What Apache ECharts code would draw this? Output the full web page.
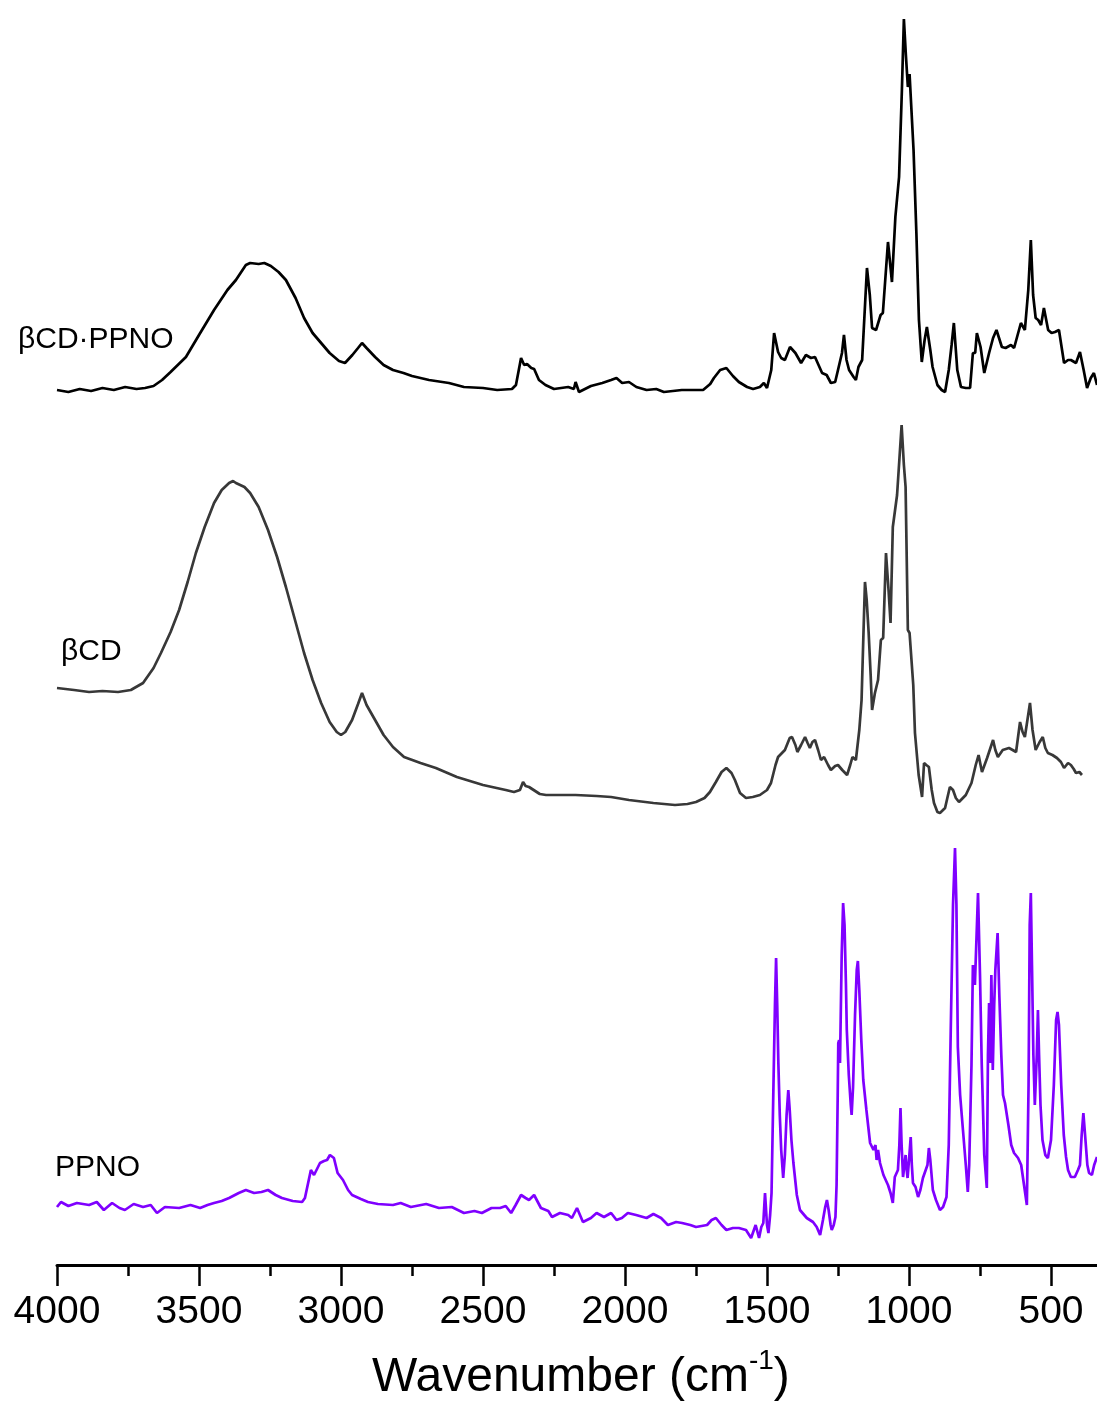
<!DOCTYPE html>
<html>
<head>
<meta charset="utf-8">
<script src="https://cdn.jsdelivr.net/npm/echarts@6/dist/echarts.min.js"></script>
<style>
  html, body { margin: 0; padding: 0; background: #fff; }
  #chart { width: 1097px; height: 1410px; }
</style>
</head>
<body>
<div id="chart"></div>
<script>
// FTIR spectra, stacked with vertical offsets (arbitrary units)
var seriesNames = ['βCD·PPNO', 'βCD', 'PPNO'];
var seriesColors = ['#000000', '#383838', '#7f00ff'];
var offsets = [875, 575, 60];
var xTicks = [4000, 3500, 3000, 2500, 2000, 1500, 1000, 500];

// [wavenumber, intensity]
var complexSpectrum = [
  [4000, 0], [3960, -2], [3920, 1], [3880, -1], [3840, 2], [3800, 0], [3760, 3], [3720, 1],
  [3690, 2], [3660, 4], [3630, 10], [3600, 18], [3546, 33], [3500, 55], [3447, 80], [3400, 100],
  [3370, 110], [3335, 125], [3320, 127], [3290, 126], [3270, 127], [3247, 124], [3220, 118],
  [3194, 110], [3160, 92], [3130, 72], [3100, 57], [3070, 47], [3040, 37], [3007, 29], [2986, 27],
  [2960, 35], [2940, 42], [2926, 47], [2910, 42], [2880, 33], [2850, 25], [2817, 20], [2780, 17],
  [2750, 14], [2690, 10], [2620, 7], [2567, 3], [2500, 2], [2450, 0], [2398, 1], [2384, 5],
  [2366, 32], [2355, 25], [2345, 26], [2330, 22], [2320, 21], [2303, 10], [2280, 5], [2250, 1],
  [2200, 3], [2180, 1], [2174, 8], [2162, -2], [2120, 4], [2080, 7], [2049, 10], [2030, 12],
  [2010, 7], [1986, 8], [1960, 3], [1924, 0], [1890, 1], [1863, -2], [1800, 0], [1725, 0],
  [1700, 6], [1687, 12], [1665, 20], [1643, 22], [1620, 14], [1599, 8], [1570, 3], [1549, 1],
  [1525, 3], [1511, 7], [1500, 2], [1485, 20], [1475, 57], [1461, 38], [1450, 32], [1437, 30],
  [1419, 43], [1400, 37], [1380, 27], [1363, 35], [1345, 32], [1331, 33], [1306, 17], [1290, 15],
  [1275, 7], [1260, 8], [1250, 20], [1236, 37], [1229, 55], [1220, 30], [1211, 20], [1195, 13],
  [1187, 10], [1178, 23], [1173, 25], [1165, 30], [1148, 122], [1138, 95], [1130, 62], [1116, 60],
  [1100, 75], [1092, 77], [1074, 148], [1060, 108], [1048, 173], [1035, 213], [1025, 300],
  [1018, 371], [1011, 335], [1004, 303], [998, 316], [993, 318], [984, 240], [974, 157], [965, 70],
  [955, 28], [945, 50], [937, 63], [925, 40], [917, 23], [900, 5], [885, 0], [873, -2], [860, 20],
  [850, 45], [842, 67], [830, 20], [817, 3], [800, 2], [785, 2], [775, 37], [767, 37], [761, 57],
  [748, 43], [735, 17], [729, 17], [718, 37], [704, 52], [692, 60], [683, 52], [673, 43], [660, 42],
  [641, 45], [630, 42], [623, 40], [606, 67], [592, 60], [580, 100], [571, 150], [563, 95],
  [554, 72], [545, 70], [535, 65], [525, 82], [510, 60], [498, 57], [486, 58], [472, 60], [454, 27],
  [440, 30], [430, 30], [412, 27], [398, 38], [385, 20], [373, 2], [360, 12], [349, 17], [338, 5]
];

var cdSpectrum = [
  [4000, 2], [3940, 0], [3887, -2], [3840, -1], [3785, -2], [3740, 0], [3697, 7], [3660, 22],
  [3634, 37], [3600, 58], [3570, 80], [3540, 108], [3511, 137], [3480, 163], [3447, 187],
  [3420, 200], [3394, 207], [3380, 209], [3370, 207], [3340, 203], [3320, 197], [3290, 183],
  [3257, 160], [3225, 133], [3194, 103], [3160, 68], [3130, 37], [3100, 10], [3070, -13],
  [3040, -32], [3015, -42], [3000, -45], [2985, -42], [2961, -30], [2940, -14], [2926, -3],
  [2910, -15], [2880, -30], [2850, -45], [2817, -57], [2778, -67], [2720, -73], [2666, -78],
  [2592, -87], [2500, -95], [2420, -100], [2391, -102], [2370, -100], [2359, -92], [2350, -96],
  [2338, -97], [2300, -104], [2278, -105], [2174, -105], [2100, -106], [2049, -107], [1986, -110],
  [1900, -113], [1824, -115], [1780, -114], [1750, -112], [1720, -108], [1701, -102], [1680, -92],
  [1660, -82], [1643, -78], [1625, -83], [1613, -90], [1595, -103], [1574, -108], [1550, -107],
  [1525, -105], [1500, -100], [1486, -93], [1470, -75], [1461, -67], [1437, -60], [1420, -48],
  [1412, -47], [1400, -55], [1393, -62], [1380, -55], [1366, -47], [1357, -53], [1349, -58],
  [1340, -52], [1331, -50], [1320, -60], [1310, -70], [1299, -67], [1285, -75], [1275, -80],
  [1260, -76], [1250, -75], [1235, -80], [1218, -85], [1207, -75], [1199, -67], [1187, -70],
  [1175, -40], [1167, -10], [1160, 60], [1155, 108], [1149, 90], [1142, 57], [1135, 15],
  [1130, -20], [1120, -3], [1109, 10], [1099, 50], [1091, 52], [1081, 137], [1072, 100],
  [1065, 67], [1057, 163], [1042, 195], [1034, 230], [1026, 265], [1018, 225], [1012, 203],
  [1004, 60], [998, 57], [993, 57], [985, 5], [979, -43], [966, -85], [954, -107], [947, -73],
  [939, -75], [930, -77], [920, -100], [912, -113], [900, -122], [891, -123], [873, -118],
  [865, -108], [856, -97], [845, -100], [835, -108], [824, -112], [800, -105], [780, -93],
  [765, -75], [755, -65], [748, -75], [743, -82], [725, -68], [704, -50], [696, -60], [687, -67],
  [670, -60], [648, -58], [635, -60], [623, -62], [609, -32], [600, -42], [592, -47], [574, -13],
  [565, -40], [554, -60], [540, -52], [529, -47], [520, -58], [511, -63], [495, -65], [479, -68],
  [465, -72], [454, -78], [440, -73], [430, -75], [420, -79], [412, -83], [400, -82], [391, -85]
];

var ppnoSpectrum = [
  [4000, -2], [3986, 3], [3960, -1], [3930, 2], [3887, 0], [3860, 3], [3835, -5], [3806, 2],
  [3780, -3], [3761, -5], [3730, 1], [3697, -2], [3670, 0], [3648, -8], [3620, -2], [3570, -3],
  [3530, 0], [3496, -3], [3470, 0], [3447, 2], [3420, 4], [3394, 7], [3360, 12], [3335, 15],
  [3306, 12], [3280, 13], [3257, 15], [3230, 10], [3208, 7], [3170, 4], [3137, 3], [3127, 7],
  [3106, 35], [3095, 30], [3088, 28], [3074, 42], [3060, 44], [3049, 45], [3039, 50], [3025, 47],
  [3012, 32], [2993, 25], [2975, 15], [2961, 10], [2930, 6], [2905, 3], [2870, 1], [2817, 0],
  [2790, 2], [2754, -2], [2700, 1], [2655, -3], [2610, -2], [2567, -8], [2530, -6], [2504, -8],
  [2470, -3], [2440, -3], [2420, -1], [2401, -8], [2385, 0], [2366, 10], [2350, 7], [2338, 5],
  [2320, 10], [2296, -3], [2270, -6], [2257, -12], [2229, -8], [2200, -10], [2187, -13],
  [2169, -3], [2148, -17], [2120, -13], [2100, -8], [2074, -12], [2049, -8], [2030, -15],
  [2011, -13], [1990, -8], [1961, -10], [1924, -13], [1900, -9], [1873, -13], [1849, -20],
  [1820, -17], [1799, -18], [1770, -20], [1750, -22], [1711, -20], [1695, -15], [1680, -13],
  [1660, -20], [1643, -25], [1620, -23], [1599, -23], [1574, -25], [1556, -33], [1540, -20],
  [1528, -33], [1520, -22], [1513, -18], [1507, 12], [1500, -20], [1495, -28], [1489, -10],
  [1484, 12], [1478, 108], [1472, 200], [1468, 247], [1464, 200], [1460, 142], [1455, 90],
  [1450, 55], [1443, 27], [1437, 50], [1431, 90], [1425, 115], [1420, 95], [1414, 65], [1407, 42],
  [1395, 10], [1384, -5], [1360, -13], [1338, -17], [1325, -22], [1313, -30], [1303, -15],
  [1295, -2], [1289, 5], [1283, -5], [1276, -20], [1272, -25], [1265, -20], [1259, -12],
  [1255, 20], [1251, 110], [1249, 162], [1246, 165], [1243, 142], [1237, 250], [1232, 302],
  [1227, 280], [1222, 220], [1219, 175], [1212, 130], [1205, 100], [1202, 90], [1197, 118],
  [1190, 190], [1184, 235], [1180, 244], [1175, 215], [1168, 165], [1161, 125], [1150, 95],
  [1137, 62], [1125, 55], [1118, 60], [1114, 45], [1109, 55], [1102, 42], [1090, 30], [1074, 20],
  [1065, 12], [1057, 2], [1050, 28], [1039, 35], [1034, 60], [1030, 97], [1026, 60], [1021, 28],
  [1016, 40], [1012, 50], [1008, 35], [1005, 27], [1000, 45], [994, 68], [990, 40], [986, 22],
  [977, 18], [968, 8], [960, 15], [951, 27], [946, 25], [935, 40], [930, 57], [925, 45], [916, 15],
  [905, 5], [891, -5], [880, -2], [868, 8], [860, 60], [853, 175], [845, 300], [838, 357],
  [833, 300], [828, 158], [820, 110], [810, 75], [800, 40], [793, 13], [788, 40], [780, 140],
  [775, 240], [771, 230], [768, 220], [762, 270], [757, 312], [750, 230], [744, 142], [735, 50],
  [726, 17], [722, 150], [718, 202], [714, 142], [710, 230], [705, 135], [700, 200], [696, 235],
  [688, 272], [682, 210], [675, 150], [669, 110], [662, 102], [650, 80], [640, 60], [630, 52],
  [616, 47], [605, 40], [595, 20], [585, 0], [579, 120], [575, 280], [571, 312], [567, 240],
  [562, 150], [557, 100], [554, 98], [550, 150], [546, 195], [542, 150], [537, 100], [530, 65],
  [520, 50], [511, 47], [500, 65], [490, 120], [482, 185], [477, 193], [472, 180], [464, 120],
  [455, 70], [447, 48], [440, 35], [430, 28], [416, 28], [405, 35], [398, 40], [392, 70],
  [386, 92], [380, 70], [372, 40], [366, 32], [356, 30], [348, 40], [338, 48]
];

var spectra = [complexSpectrum, cdSpectrum, ppnoSpectrum];
var labelTops = [325, 637, 1153];
var labelLefts = [18, 61, 55];

var FONT = '"Liberation Sans", Arial, sans-serif';
var chart = echarts.init(document.getElementById('chart'), null, { renderer: 'canvas' });

var option = {
  animation: false,
  backgroundColor: '#ffffff',
  grid: { left: 57, top: 15, width: 1136, height: 1250, outerBoundsMode: 'none', containLabel: false },
  title: {
    text: '{a|Wavenumber (cm}{s|-1}{a|)}',
    left: 367,
    top: 1342,
    textStyle: {
      fontWeight: 'normal',
      rich: {
        a: { fontSize: 48, fontFamily: FONT, fontWeight: 'normal', color: '#000' },
        s: { fontSize: 28, fontFamily: FONT, fontWeight: 'normal', color: '#000', padding: [0, 0, 34, 0] }
      }
    }
  },
  xAxis: {
    type: 'value',
    inverse: true,
    min: 0,
    max: 4000,
    interval: 500,
    axisLine: { lineStyle: { color: '#000', width: 3 } },
    axisTick: { length: 21, lineStyle: { color: '#000', width: 2.5 } },
    minorTick: { show: true, splitNumber: 2, length: 11, lineStyle: { color: '#000', width: 2.5 } },
    splitLine: { show: false },
    axisLabel: {
      fontSize: 39,
      fontFamily: FONT,
      color: '#000',
      margin: 28,
      formatter: function (v) { return xTicks.indexOf(v) >= 0 ? String(v) : ''; }
    }
  },
  yAxis: {
    type: 'value',
    min: 0,
    max: 1250,
    show: false
  },
  graphic: seriesNames.map(function (name, i) {
    return {
      type: 'text',
      left: labelLefts[i],
      top: labelTops[i],
      style: { text: name, font: '30px ' + FONT, fill: '#000' }
    };
  }),
  series: spectra.map(function (data, i) {
    return {
      name: seriesNames[i],
      type: 'line',
      showSymbol: false,
      silent: true,
      lineStyle: { color: seriesColors[i], width: 2.7 },
      data: data.map(function (p) { return [p[0], p[1] + offsets[i]]; })
    };
  })
};

chart.setOption(option);
</script>
</body>
</html>
